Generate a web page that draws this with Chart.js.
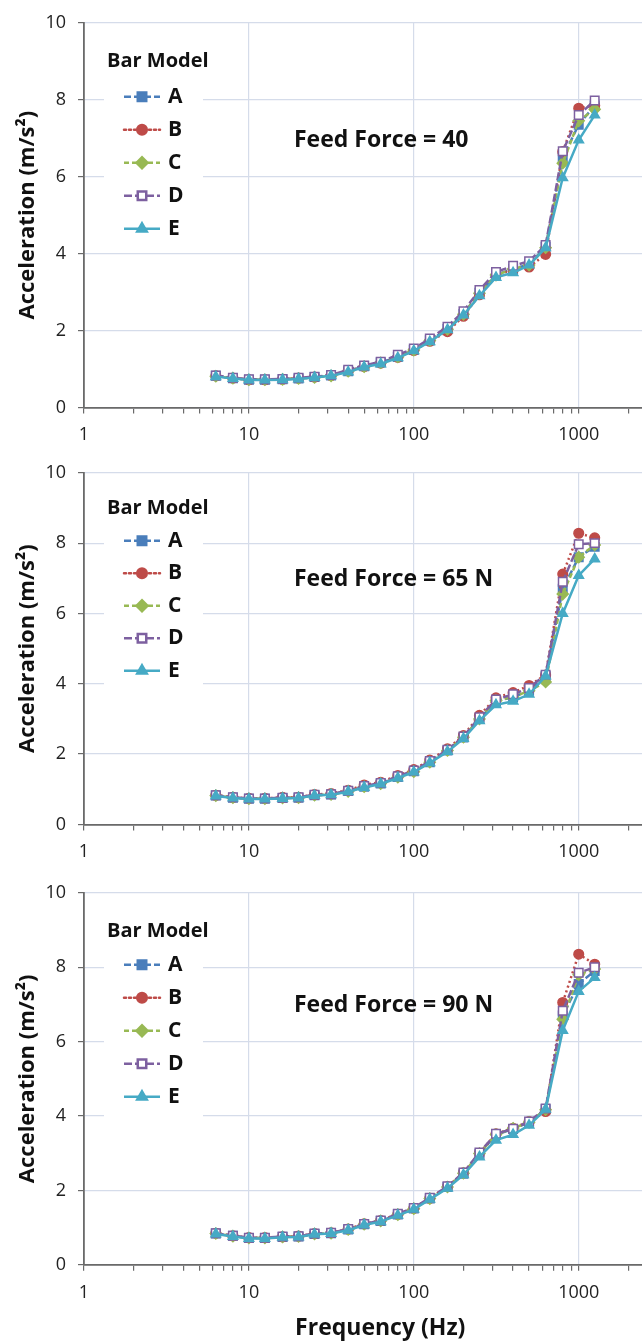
<!DOCTYPE html>
<html>
<head>
<meta charset="utf-8">
<script src="https://cdn.jsdelivr.net/npm/chart.js@4.4.1/dist/chart.umd.min.js"></script>
<style>
  html, body { margin: 0; padding: 0; background: #fff; width: 642px; height: 1341px; overflow: hidden; position: relative; }
  canvas { position: absolute; left: 0; }
</style>
</head>
<body>
<canvas id="c1" width="684" height="463" style="top:0px"></canvas>
<canvas id="c2" width="684" height="433" style="top:450px"></canvas>
<canvas id="c3" width="684" height="472" style="top:870px"></canvas>
<script>
// ===== Data =====
const freqs = [6.3, 8, 10, 12.5, 16, 20, 25, 31.5, 40, 50, 63, 80, 100, 125, 160, 200, 250, 315, 400, 500, 630, 800, 1000, 1250];
const models = ['A', 'B', 'C', 'D', 'E'];
const xTickLabels = [1, 10, 100, 1000];
const yTicks = [0, 2, 4, 6, 8, 10];

// Feed force = 40
const f40A = [0.82, 0.76, 0.72, 0.72, 0.73, 0.75, 0.79, 0.83, 0.94, 1.07, 1.17, 1.31, 1.49, 1.74, 2.04, 2.43, 2.98, 3.45, 3.60, 3.72, 4.18, 6.50, 7.35, 7.85];
const f40B = [0.82, 0.76, 0.72, 0.72, 0.73, 0.76, 0.79, 0.83, 0.95, 1.06, 1.15, 1.30, 1.48, 1.72, 1.97, 2.37, 2.93, 3.44, 3.58, 3.65, 3.98, 6.65, 7.78, 7.85];
const f40C = [0.81, 0.76, 0.72, 0.72, 0.73, 0.75, 0.78, 0.82, 0.94, 1.06, 1.16, 1.31, 1.49, 1.74, 2.03, 2.42, 2.97, 3.44, 3.60, 3.70, 4.15, 6.35, 7.45, 7.75];
const f40D = [0.83, 0.77, 0.73, 0.73, 0.74, 0.77, 0.80, 0.84, 0.98, 1.09, 1.19, 1.37, 1.53, 1.79, 2.10, 2.50, 3.05, 3.52, 3.68, 3.80, 4.22, 6.66, 7.60, 7.98];
const f40E = [0.80, 0.75, 0.71, 0.71, 0.72, 0.74, 0.78, 0.82, 0.92, 1.05, 1.13, 1.29, 1.47, 1.71, 2.02, 2.40, 2.90, 3.38, 3.50, 3.70, 4.15, 5.97, 6.95, 7.60];

// Feed force = 65 N
const f65A = [0.82, 0.76, 0.73, 0.73, 0.75, 0.76, 0.83, 0.85, 0.95, 1.07, 1.16, 1.35, 1.51, 1.77, 2.10, 2.47, 3.00, 3.50, 3.62, 3.80, 4.22, 6.70, 7.60, 7.90];
const f65B = [0.83, 0.77, 0.74, 0.74, 0.77, 0.77, 0.85, 0.88, 0.97, 1.12, 1.20, 1.39, 1.56, 1.83, 2.15, 2.53, 3.10, 3.60, 3.75, 3.95, 4.25, 7.12, 8.28, 8.15];
const f65C = [0.82, 0.76, 0.73, 0.73, 0.75, 0.76, 0.83, 0.85, 0.94, 1.07, 1.16, 1.34, 1.50, 1.77, 2.10, 2.48, 3.00, 3.52, 3.62, 3.80, 4.05, 6.55, 7.60, 7.95];
const f65D = [0.83, 0.77, 0.74, 0.74, 0.76, 0.77, 0.84, 0.86, 0.96, 1.09, 1.18, 1.37, 1.53, 1.80, 2.12, 2.50, 3.05, 3.55, 3.70, 3.88, 4.26, 6.90, 7.97, 8.00];
const f65E = [0.81, 0.75, 0.72, 0.72, 0.74, 0.75, 0.82, 0.84, 0.93, 1.05, 1.15, 1.32, 1.49, 1.75, 2.07, 2.44, 2.95, 3.40, 3.50, 3.70, 4.22, 6.00, 7.08, 7.55];

// Feed force = 90 N
const f90A = [0.84, 0.78, 0.72, 0.72, 0.75, 0.76, 0.83, 0.85, 0.95, 1.09, 1.18, 1.35, 1.51, 1.78, 2.09, 2.45, 2.98, 3.50, 3.65, 3.83, 4.18, 6.70, 7.55, 7.90];
const f90B = [0.85, 0.78, 0.73, 0.73, 0.75, 0.77, 0.84, 0.86, 0.96, 1.10, 1.19, 1.36, 1.52, 1.79, 2.10, 2.47, 3.00, 3.52, 3.67, 3.85, 4.12, 7.05, 8.35, 8.08];
const f90C = [0.84, 0.77, 0.72, 0.72, 0.75, 0.76, 0.83, 0.85, 0.95, 1.09, 1.18, 1.35, 1.51, 1.78, 2.09, 2.46, 2.99, 3.50, 3.67, 3.83, 4.17, 6.60, 7.80, 7.95];
const f90D = [0.85, 0.78, 0.73, 0.73, 0.76, 0.77, 0.84, 0.86, 0.96, 1.10, 1.19, 1.37, 1.53, 1.80, 2.11, 2.48, 3.02, 3.52, 3.66, 3.85, 4.20, 6.83, 7.85, 8.00];
const f90E = [0.83, 0.76, 0.71, 0.71, 0.74, 0.75, 0.82, 0.84, 0.93, 1.07, 1.16, 1.33, 1.49, 1.76, 2.06, 2.42, 2.90, 3.35, 3.50, 3.75, 4.18, 6.30, 7.35, 7.72];

// ===== Styles =====
const FONT = "'Open Sans', 'Liberation Sans', sans-serif";
const X_MAX = 3917;
const styles = {
  A: { color: '#4a7ebb', dash: [7, 3], point: 'rect', radius: 6, fill: '#4a7ebb' },
  B: { color: '#be4b48', dash: [2, 3], point: 'circle', radius: 4.8, fill: '#be4b48' },
  C: { color: '#98b954', dash: [5, 3], point: 'rectRot', radius: 5.5, fill: '#98b954' },
  D: { color: '#7d60a0', dash: [8, 3], point: 'rect', radius: 6, fill: '#ffffff' },
  E: { color: '#46aac5', dash: [], point: 'triangle', radius: 5.5, fill: '#46aac5' },
};

const isDecade = v => xTickLabels.includes(v);

// legend box + feed force label drawn inside the plot
const overlay = {
  id: 'overlay',
  beforeDatasetsDraw(chart, args, o) {
    const { ctx, chartArea: a } = chart;
    ctx.save();
    ctx.fillStyle = '#fff';
    ctx.fillRect(104, a.top + 8, 99, o.first + o.step * 4 + 14);
    ctx.fillStyle = '#111';
    ctx.textBaseline = 'middle';
    ctx.font = `bold 20px ${FONT}`;
    ctx.fillText('Bar Model', 107, a.top + o.head);
    chart.data.datasets.forEach((ds, i) => {
      const y = a.top + o.first + o.step * i;
      ctx.save();
      ctx.strokeStyle = ds.borderColor;
      ctx.lineWidth = 2.5;
      ctx.lineCap = ds.label === 'B' ? 'round' : 'butt';
      ctx.setLineDash(ds.borderDash);
      ctx.beginPath(); ctx.moveTo(124, y); ctx.lineTo(160, y); ctx.stroke();
      ctx.setLineDash([]);
      ctx.fillStyle = ds.pointBackgroundColor;
      ctx.strokeStyle = ds.borderColor;
      Chart.helpers.drawPoint(ctx, { pointStyle: ds.pointStyle, radius: ds.pointRadius, rotation: 0, borderWidth: 1.5 }, 142, y);
      ctx.restore();
      ctx.fillStyle = '#111';
      ctx.font = `bold 21px ${FONT}`;
      ctx.fillText(ds.label, 168, y);
    });
    ctx.font = `bold 23px ${FONT}`;
    ctx.fillText(o.title, 294, a.top + o.titleY);
    ctx.restore();
  }
};

function makeChart(id, title, arrays, pad, legendPos, showXTitle) {
  const datasets = models.map((m, i) => {
    const s = styles[m];
    return {
      label: m,
      data: freqs.map((f, k) => ({ x: f, y: arrays[i][k] })),
      borderColor: s.color,
      backgroundColor: s.fill,
      borderWidth: 2.5,
      borderDash: s.dash,
      pointStyle: s.point,
      pointRadius: s.radius,
      pointBackgroundColor: s.fill,
      pointBorderColor: s.color,
      pointBorderWidth: 1.5,
      tension: 0,
      order: 4 - i,
    };
  });
  return new Chart(document.getElementById(id), {
    type: 'line',
    data: { datasets },
    options: {
      responsive: false,
      animation: false,
      layout: { padding: pad },
      plugins: { legend: { display: false }, tooltip: { enabled: false }, overlay: { ...legendPos, title } },
      scales: {
        x: {
          type: 'logarithmic', min: 1, max: X_MAX,
          afterBuildTicks: s => {
            const t = [];
            for (let d = 1; d <= 1000; d *= 10) for (let k = 1; k <= 9; k++) t.push({ value: d * k });
            s.ticks = t.filter(x => x.value <= X_MAX);
          },
          ticks: {
            autoSkip: false, maxRotation: 0, padding: 11, color: '#222',
            font: { family: FONT, size: 18 },
            callback: v => isDecade(v) ? String(v) : '',
          },
          grid: {
            color: c => (c.tick && isDecade(c.tick.value) ? '#d5dcea' : 'rgba(0,0,0,0)'),
            tickColor: '#6a6a6a', tickLength: 6, lineWidth: 1.2,
          },
          border: { color: '#6a6a6a', width: 1.8 },
          title: {
            display: showXTitle, text: 'Frequency (Hz)', color: '#111',
            font: { family: FONT, size: 23, weight: 'bold' }, padding: { top: 0, bottom: 0 },
          },
        },
        y: {
          min: 0, max: 10,
          afterBuildTicks: s => { s.ticks = yTicks.map(v => ({ value: v })); },
          afterFit: s => { s.width = 84; },
          ticks: { padding: 12, color: '#222', font: { family: FONT, size: 18 } },
          grid: { color: '#d5dcea', tickColor: '#6a6a6a', tickLength: 6, lineWidth: 1.2 },
          border: { color: '#6a6a6a', width: 1.8 },
          title: {
            display: true, text: 'Acceleration (m/s²)', color: '#111',
            font: { family: FONT, size: 22, weight: 'bold' }, padding: { top: 15, bottom: 0 },
          },
        },
      },
    },
    plugins: [overlay],
  });
}

makeChart('c1', 'Feed Force = 40', [f40A, f40B, f40C, f40D, f40E],
  { top: 19, bottom: 6, left: 0, right: 0 }, { head: 38, first: 74, step: 33, titleY: 118 }, false);
makeChart('c2', 'Feed Force = 65 N', [f65A, f65B, f65C, f65D, f65E],
  { top: 20, bottom: 9, left: 0, right: 0 }, { head: 35, first: 68, step: 32.5, titleY: 107 }, false);
makeChart('c3', 'Feed Force = 90 N', [f90A, f90B, f90C, f90D, f90E],
  { top: 20, bottom: 0, left: 0, right: 0 }, { head: 38, first: 72, step: 33, titleY: 113 }, true);
</script>
</body>
</html>
